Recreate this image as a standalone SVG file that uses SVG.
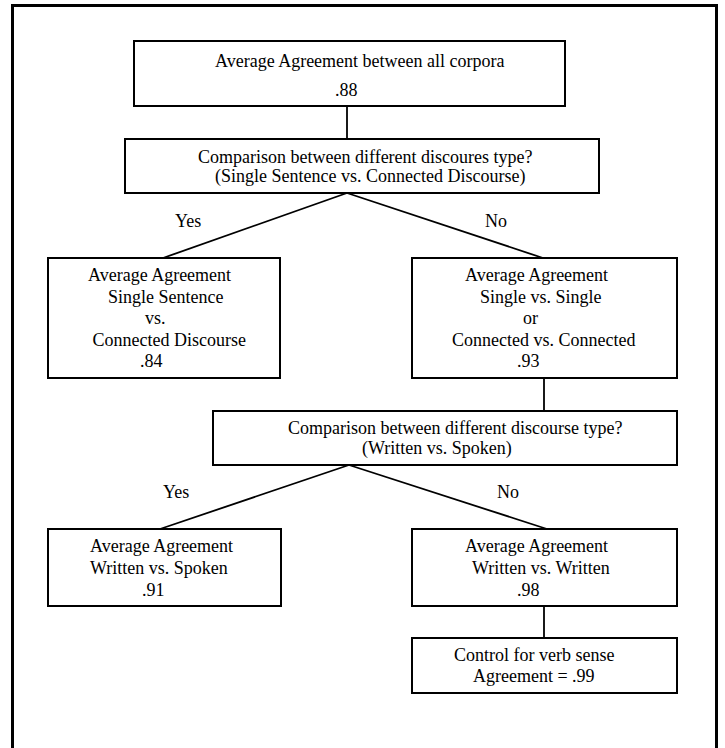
<svg xmlns="http://www.w3.org/2000/svg" width="725" height="748" viewBox="0 0 725 748">
<style>
.box{fill:#fff;stroke:#000;stroke-width:2}
.ln{stroke:#000;stroke-width:1.8;fill:none}
.frame{stroke:#000;stroke-width:3;fill:none}
text{font-family:"Liberation Serif","Times New Roman",serif;font-size:18px;fill:#000}
</style>
<rect width="725" height="748" fill="#fff"/>
<path class="frame" d="M12.5,748 V5.5 H716.5 V748"/>
<g id="connectors">
<line class="ln" x1="347" y1="106" x2="347" y2="139"/>
<line class="ln" x1="347" y1="193" x2="163" y2="258"/>
<line class="ln" x1="347" y1="193" x2="543" y2="258"/>
<line class="ln" x1="544" y1="378" x2="544" y2="411"/>
<line class="ln" x1="349" y1="465" x2="160" y2="529"/>
<line class="ln" x1="349" y1="465" x2="547" y2="529"/>
<line class="ln" x1="544" y1="606" x2="544" y2="638"/>
<text x="175" y="227">Yes</text>
<text x="485" y="227">No</text>
<text x="163" y="498">Yes</text>
<text x="497" y="498">No</text>
</g>
<g id="n-all">
<rect class="box" x="134" y="41" width="431" height="65"/>
<text x="215" y="67">Average Agreement between all corpora</text>
<text x="335" y="96">.88</text>
</g>
<g id="n-q1">
<rect class="box" x="125" y="139" width="474" height="54"/>
<text x="198" y="163">Comparison between different discoures type?</text>
<text x="215" y="182">(Single Sentence vs. Connected Discourse)</text>
</g>
<g id="n-ss-cd">
<rect class="box" x="48" y="258" width="232" height="120"/>
<text x="88" y="281">Average Agreement</text>
<text x="108" y="302.5">Single Sentence</text>
<text x="145" y="324">vs.</text>
<text x="92.5" y="345.5">Connected Discourse</text>
<text x="140" y="367">.84</text>
</g>
<g id="n-same">
<rect class="box" x="412" y="258" width="265" height="120"/>
<text x="465" y="281">Average Agreement</text>
<text x="480" y="302.5">Single vs. Single</text>
<text x="523" y="324">or</text>
<text x="452" y="345.5">Connected vs. Connected</text>
<text x="517" y="367">.93</text>
</g>
<g id="n-q2">
<rect class="box" x="213" y="411" width="464" height="54"/>
<text x="288" y="434">Comparison between different discourse type?</text>
<text x="362" y="454">(Written vs. Spoken)</text>
</g>
<g id="n-ws">
<rect class="box" x="48" y="529" width="233" height="77"/>
<text x="90" y="552">Average Agreement</text>
<text x="90" y="574">Written vs. Spoken</text>
<text x="142" y="596">.91</text>
</g>
<g id="n-ww">
<rect class="box" x="412" y="529" width="265" height="77"/>
<text x="465" y="552">Average Agreement</text>
<text x="472" y="574">Written vs. Written</text>
<text x="517" y="596">.98</text>
</g>
<g id="n-verb">
<rect class="box" x="412" y="638" width="265" height="55"/>
<text x="454" y="661">Control for verb sense</text>
<text x="473" y="682">Agreement = .99</text>
</g>
</svg>
